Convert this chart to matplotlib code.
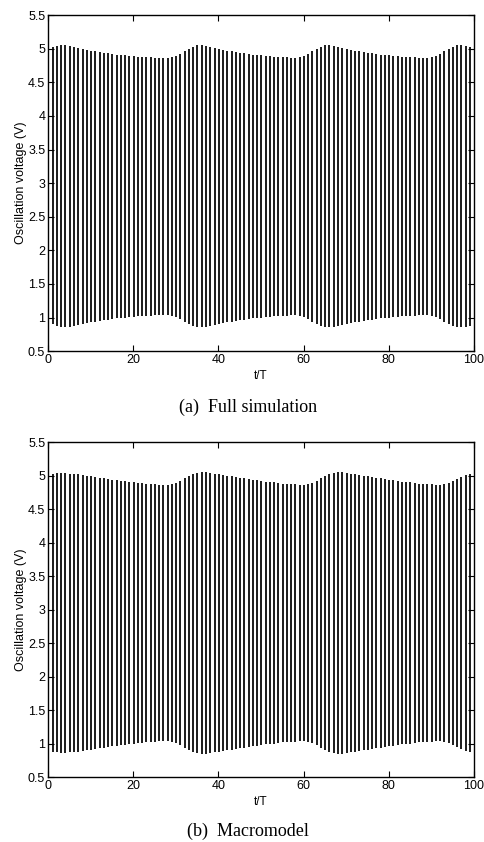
import matplotlib
matplotlib.use('Agg')
import matplotlib.pyplot as plt
import numpy as np

# cycle index (t/T) of each oscillation period
cycles = np.arange(100)

# (a) full simulation: peak (upper) and trough (lower) voltage of each cycle
full_hi = [5.00, 5.02, 5.04, 5.05, 5.05, 5.04, 5.03, 5.01, 5.00, 4.98,
           4.97, 4.96, 4.95, 4.94, 4.93, 4.92, 4.91, 4.90, 4.90, 4.89,
           4.89, 4.88, 4.88, 4.87, 4.87, 4.86, 4.86, 4.86, 4.86, 4.87,
           4.89, 4.92, 4.96, 5.00, 5.03, 5.05, 5.05, 5.04, 5.03, 5.01,
           5.00, 4.98, 4.97, 4.96, 4.95, 4.94, 4.93, 4.92, 4.91, 4.90,
           4.90, 4.89, 4.89, 4.88, 4.88, 4.87, 4.87, 4.86, 4.86, 4.87,
           4.89, 4.92, 4.96, 5.00, 5.03, 5.05, 5.05, 5.04, 5.03, 5.01,
           5.00, 4.98, 4.97, 4.96, 4.95, 4.94, 4.93, 4.92, 4.91, 4.90,
           4.90, 4.89, 4.89, 4.88, 4.88, 4.87, 4.87, 4.86, 4.86, 4.86,
           4.87, 4.89, 4.92, 4.96, 5.00, 5.03, 5.05, 5.05, 5.04, 5.02]
full_lo = [1.00, 0.90, 0.87, 0.86, 0.86, 0.86, 0.87, 0.89, 0.90, 0.92,
           0.93, 0.94, 0.95, 0.96, 0.97, 0.98, 0.99, 1.00, 1.00, 1.01,
           1.01, 1.02, 1.02, 1.03, 1.03, 1.04, 1.04, 1.04, 1.04, 1.03,
           1.01, 0.98, 0.94, 0.90, 0.87, 0.86, 0.86, 0.86, 0.87, 0.89,
           0.90, 0.92, 0.93, 0.94, 0.95, 0.96, 0.97, 0.98, 0.99, 1.00,
           1.00, 1.01, 1.01, 1.02, 1.02, 1.03, 1.03, 1.04, 1.04, 1.03,
           1.01, 0.98, 0.94, 0.90, 0.87, 0.86, 0.86, 0.86, 0.87, 0.89,
           0.90, 0.92, 0.93, 0.94, 0.95, 0.96, 0.97, 0.98, 0.99, 1.00,
           1.00, 1.01, 1.01, 1.02, 1.02, 1.03, 1.03, 1.04, 1.04, 1.04,
           1.03, 1.01, 0.98, 0.94, 0.90, 0.87, 0.86, 0.86, 0.86, 0.88]

# (b) macromodel
macro_hi = [5.02, 5.03, 5.04, 5.04, 5.04, 5.03, 5.03, 5.02, 5.01, 5.00,
            4.99, 4.98, 4.97, 4.96, 4.95, 4.94, 4.93, 4.92, 4.92, 4.91,
            4.90, 4.89, 4.89, 4.88, 4.87, 4.87, 4.86, 4.86, 4.86, 4.87,
            4.89, 4.92, 4.96, 4.99, 5.02, 5.04, 5.05, 5.05, 5.04, 5.03,
            5.02, 5.01, 5.00, 4.99, 4.98, 4.97, 4.96, 4.95, 4.94, 4.93,
            4.92, 4.91, 4.90, 4.90, 4.89, 4.88, 4.88, 4.87, 4.87, 4.86,
            4.86, 4.87, 4.89, 4.92, 4.96, 4.99, 5.02, 5.04, 5.05, 5.05,
            5.04, 5.03, 5.02, 5.01, 5.00, 4.99, 4.98, 4.97, 4.96, 4.95,
            4.94, 4.93, 4.92, 4.91, 4.90, 4.90, 4.89, 4.88, 4.88, 4.87,
            4.87, 4.86, 4.86, 4.87, 4.89, 4.92, 4.95, 4.98, 5.01, 5.03]
macro_lo = [0.90, 0.88, 0.87, 0.86, 0.86, 0.87, 0.87, 0.88, 0.89, 0.90,
            0.91, 0.92, 0.93, 0.94, 0.95, 0.96, 0.97, 0.98, 0.98, 0.99,
            1.00, 1.01, 1.01, 1.02, 1.03, 1.03, 1.04, 1.04, 1.04, 1.03,
            1.01, 0.98, 0.94, 0.91, 0.88, 0.86, 0.85, 0.85, 0.86, 0.87,
            0.88, 0.89, 0.90, 0.91, 0.92, 0.93, 0.94, 0.95, 0.96, 0.97,
            0.98, 0.99, 1.00, 1.00, 1.01, 1.02, 1.02, 1.03, 1.03, 1.04,
            1.04, 1.03, 1.01, 0.98, 0.94, 0.91, 0.88, 0.86, 0.85, 0.85,
            0.86, 0.87, 0.88, 0.89, 0.90, 0.91, 0.92, 0.93, 0.94, 0.95,
            0.96, 0.97, 0.98, 0.99, 1.00, 1.00, 1.01, 1.02, 1.02, 1.03,
            1.03, 1.04, 1.04, 1.03, 1.01, 0.98, 0.95, 0.92, 0.89, 0.87]

x_ticks = [0, 20, 40, 60, 80, 100]
y_ticks = [0.5, 1, 1.5, 2, 2.5, 3, 3.5, 4, 4.5, 5, 5.5]
y_tick_labels = ['0.5', '1', '1.5', '2', '2.5', '3', '3.5', '4', '4.5', '5', '5.5']

plt.rcParams['font.family'] = ['Liberation Sans', 'DejaVu Sans']

fig = plt.figure(figsize=(4.85, 8.42), dpi=100)


def draw_panel(ax, lo, hi, caption, cap_y):
    ax.vlines(cycles + 0.1, lo, hi, color='black', linewidth=1.25)
    ax.set_xlim(0, 100)
    ax.set_ylim(0.5, 5.5)
    ax.set_xticks(x_ticks)
    ax.set_yticks(y_ticks)
    ax.set_yticklabels(y_tick_labels)
    ax.tick_params(direction='in', length=4, width=0.8, labelsize=9,
                   top=True, right=True, pad=2)
    for s in ax.spines.values():
        s.set_linewidth(1.0)
    ax.set_xlabel('t/T', fontsize=8.5, labelpad=3)
    ax.set_ylabel('Oscillation voltage (V)', fontsize=9, labelpad=1)
    fig.text(0.512, cap_y, caption, family='Liberation Serif', fontsize=13,
             ha='center', va='center')


ax1 = fig.add_axes([0.099, 0.583, 0.878, 0.399])
draw_panel(ax1, full_lo, full_hi, '(a)  Full simulation', 1 - 407 / 842)

ax2 = fig.add_axes([0.099, 0.077, 0.878, 0.398])
draw_panel(ax2, macro_lo, macro_hi, '(b)  Macromodel', 1 - 831 / 842)

fig.savefig('out.png', dpi=100)
